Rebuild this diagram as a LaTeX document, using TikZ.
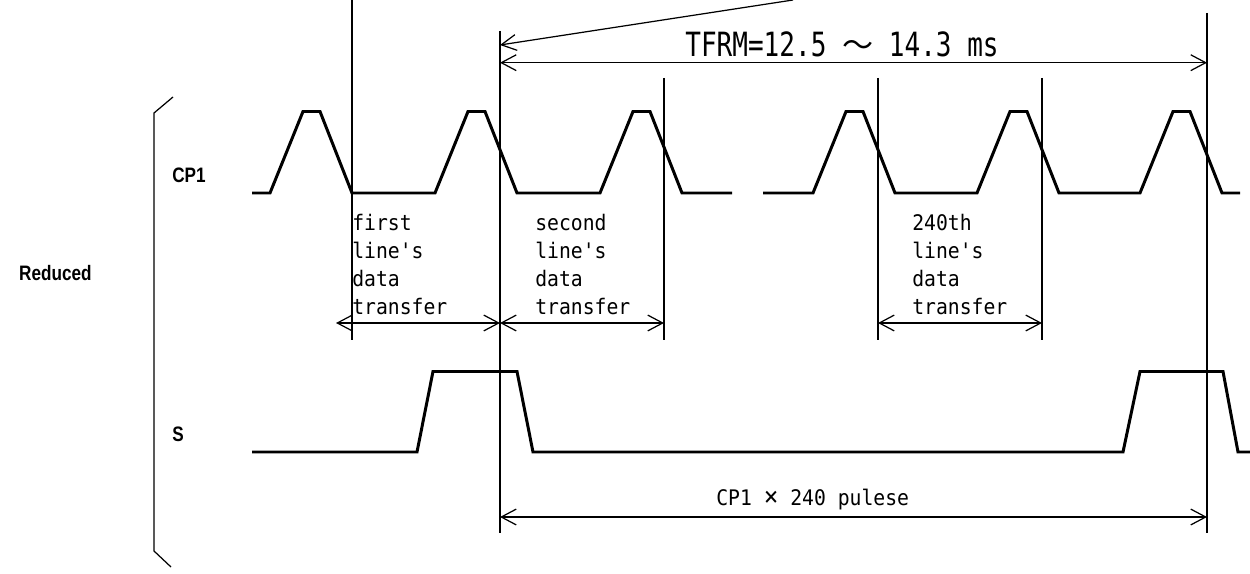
\documentclass[tikz,border=0pt]{standalone}
\usepackage{fontspec}
\usetikzlibrary{arrows.meta}
\newfontfamily\gothic[FakeStretch=0.92]{DejaVu Sans Mono}
\newfontfamily\gothicwide[FakeStretch=0.78]{DejaVu Sans Mono}
\newfontfamily\cjk{Noto Sans CJK JP}
\newfontfamily\sigfont[FakeStretch=0.82]{Liberation Sans Bold}

\tikzset{
  sig/.style={line width=1.7pt},
  marker/.style={line width=0.7pt},
  barb/.tip={Straight Barb[length=8.5pt,width=9pt]},
  dim/.style={line width=0.7pt, barb-barb},
  lbl/.style={font=\gothic\fontsize{12.2pt}{15.9pt}\selectfont, inner sep=0pt, align=left, anchor=north west},
  signame/.style={font=\sigfont\fontsize{11.9pt}{14pt}\selectfont, inner sep=0pt},
}

\begin{document}
\begin{tikzpicture}[x=0.02cm, y=-0.02cm]
\useasboundingbox[fill=white] (0,0) rectangle (1250,574);

% timing marks
\foreach \n/\x/\t/\b in {m1/352/0/340, m2/500/31/533, m3/664/78/340,
                         m4/878/78/340, m5/1042/78/340, m6/1207/13/533} {
  \coordinate (\n) at (\x,\t);
  \coordinate (\n b) at (\x,\b);
  \draw[marker] (\n) -- (\n b);
}
\coordinate (tf) at (0,62.7);
\coordinate (dt) at (0,323);
\coordinate (np) at (0,517);
\coordinate (sl) at (0,45);
\coordinate (slant) at (793,0);
\coordinate (d0) at (336,323);

% bracket
\draw[marker] (173,97) -- (154,113) -- (154,551) -- (171,567);

% signal names
\node[signame, anchor=base east] (reduced) at (92,280) {Reduced};
\node[signame, anchor=base west] (cp1) at (172,183) {CP1};
\node[signame, anchor=base west] (s) at (172,441) {S};

% CP1
\draw[sig] (252,193) \foreach \r in {270,435,600} { -- (\r,193) -- ++(33,-81.5) -- ++(17,0) -- ++(32,81.5) } -- (732,193);
\draw[sig] (763,193) \foreach \r in {813,977,1140} { -- (\r,193) -- ++(33,-81.5) -- ++(17,0) -- ++(32,81.5) } -- (1240,193);

% S
\draw[sig] (252,452) -- (417,452) -- (433,371.5) -- (517,371.5) -- (533,452)
  -- (1123,452) -- (1140,371.5) -- (1223,371.5) -- (1238,452) -- (1250,452);

% labels
\node[lbl] (line1) at (352,214) {first\\line's\\data\\transfer};
\node[lbl] (line2) at (535,214) {second\\line's\\data\\transfer};
\node[lbl] (line240) at (912,214) {240th\\line's\\data\\transfer};
\node[anchor=base west, inner sep=0pt, font=\gothicwide\fontsize{19pt}{24pt}\selectfont] (tfrm) at (685,57)
  {TFRM=12.5 {\cjk\fontsize{17.7pt}{20pt}\selectfont ～} 14.3 ms};
\node[anchor=base west, inner sep=0pt, font=\gothic\fontsize{12.2pt}{16pt}\selectfont] (pulses) at (716,505)
  {CP1 {\fontsize{15pt}{16pt}\selectfont ×} 240 pulese};

% dimensions
\draw[marker, -barb] (slant) -- (m2|-sl);
\draw[dim] (m2|-tf) -- (m6|-tf);
\draw[dim] (d0) -- (m2|-dt);
\draw[dim] (m2|-dt) -- (m3|-dt);
\draw[dim] (m4|-dt) -- (m5|-dt);
\draw[dim] (m2|-np) -- (m6|-np);
\end{tikzpicture}
\end{document}
